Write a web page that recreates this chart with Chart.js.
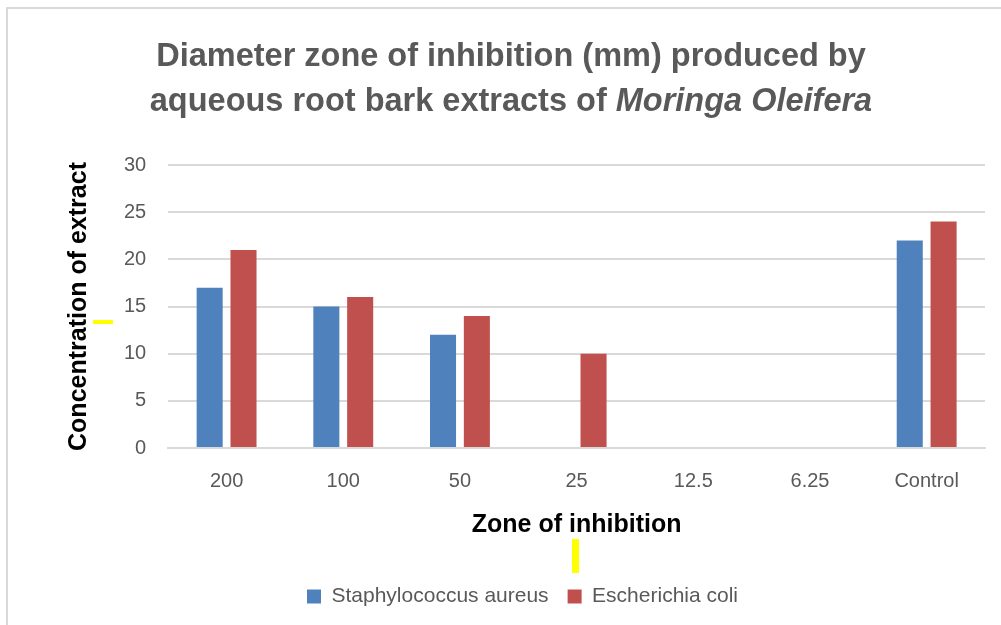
<!DOCTYPE html>
<html>
<head>
<meta charset="utf-8">
<script src="https://cdn.jsdelivr.net/npm/chart.js@4"></script>
<style>
  body { margin: 0; background: #fff; }
  #wrap { position: relative; width: 1001px; height: 625px; overflow: hidden; }
  #frame { position: absolute; left: 6px; top: 7px; width: 1100px; height: 700px;
           border-top: 2px solid #d9d9d9; border-left: 2px solid #d9d9d9; }
  #title { position: absolute; left: 0; width: 1022px; top: 33px; text-align: center;
           font-family: "Liberation Sans", Arial, sans-serif; font-weight: bold;
           font-size: 32.5px; line-height: 45px; color: #595959; }
  canvas { position: absolute; left: 0; top: 0; }
</style>
</head>
<body>
<div id="wrap">
  <div id="frame"></div>
  <canvas id="chart" width="1001" height="625"></canvas>
  <div id="title">Diameter zone of inhibition (mm) produced by<br>aqueous root bark extracts of <i>Moringa Oleifera</i></div>
</div>
<script>
var categories = ["200", "100", "50", "25", "12.5", "6.25", "Control"];
var staphValues = [17, 15, 12, 0, 0, 0, 22];
var ecoliValues = [21, 16, 14, 10, 0, 0, 24];
var yTicks = [0, 5, 10, 15, 20, 25, 30];

var FONT = "'Liberation Sans', Arial, sans-serif";

// the two little yellow marks in the original picture
var yellowMarks = {
    id: 'yellowMarks',
    afterDraw: function (chart) {
        var ctx = chart.ctx;
        ctx.save();
        ctx.fillStyle = "#ffff00";
        ctx.fillRect(93, 320, 20, 4);
        ctx.fillRect(572, 539, 7, 34);
        ctx.restore();
    }
};

var chartElement = document.getElementById("chart");
var chart = new Chart(chartElement, {
    type: 'bar',
    data: {
        labels: categories,
        datasets: [
            {
                label: "Staphylococcus aureus",
                data: staphValues,
                backgroundColor: "#4F81BD"
            },
            {
                label: "Escherichia coli",
                data: ecoliValues,
                backgroundColor: "#C0504D"
            }
        ]
    },
    options: {
        responsive: false,
        animation: false,
        categoryPercentage: 0.58,
        barPercentage: 0.77,
        layout: { padding: { top: 165, left: 60, right: 16, bottom: 8 } },
        plugins: {
            title: { display: false },
            tooltip: { enabled: false },
            legend: {
                position: 'bottom',
                labels: {
                    boxWidth: 14,
                    boxHeight: 14,
                    padding: 19,
                    color: "#595959",
                    font: { family: FONT, size: 21 }
                }
            }
        },
        scales: {
            x: {
                grid: { display: false },
                border: { display: true, color: "#d9d9d9", width: 2 },
                ticks: { color: "#595959", font: { family: FONT, size: 20 }, padding: 13 },
                title: {
                    display: true,
                    text: "Zone of inhibition",
                    color: "#000",
                    font: { family: FONT, size: 25, weight: 'bold' },
                    padding: { top: 4, bottom: 27 }
                }
            },
            y: {
                min: 0,
                max: 30,
                afterBuildTicks: function (axis) {
                    axis.ticks = yTicks.map(function (v) { return { value: v }; });
                },
                grid: { color: "#d9d9d9", lineWidth: 2, drawTicks: false },
                border: { display: false },
                ticks: { color: "#595959", font: { family: FONT, size: 20 }, padding: 22 },
                title: {
                    display: true,
                    text: "Concentration of extract",
                    color: "#000",
                    font: { family: FONT, size: 25, weight: 'bold' },
                    padding: { top: 4, bottom: 8 }
                }
            }
        }
    },
    plugins: [yellowMarks]
});
</script>
</body>
</html>
